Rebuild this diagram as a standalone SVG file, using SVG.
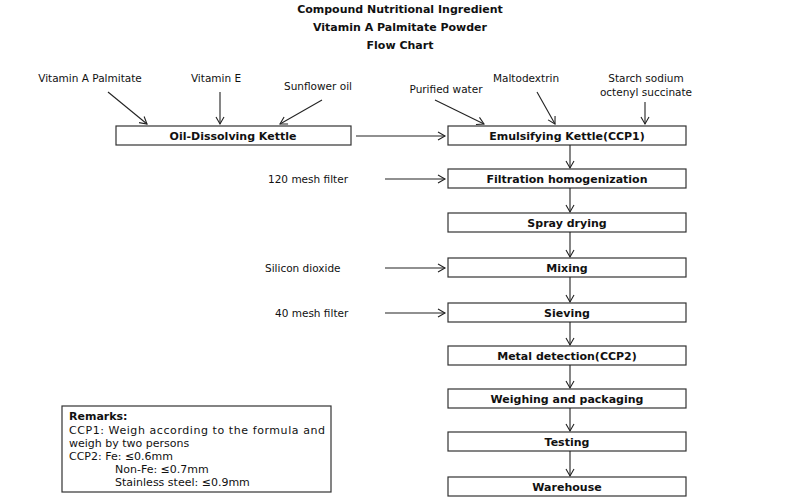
<svg xmlns="http://www.w3.org/2000/svg" width="800" height="500" viewBox="0 0 800 500">
<style>
text{font-family:"DejaVu Sans",Verdana,sans-serif;font-size:10.5px;fill:#111}
.t{font-weight:bold;font-size:11px}
.b{font-weight:bold;text-anchor:middle;font-size:11px}
.c{text-anchor:middle}
.r{font-size:11px}
rect{fill:#fff;stroke:#333;stroke-width:1.2}
line{stroke:#222;stroke-width:1.1;marker-end:url(#a)}
</style>
<defs><marker id="a" markerWidth="10" markerHeight="10" refX="8" refY="5" orient="auto" markerUnits="userSpaceOnUse"><path d="M1,1 L8,5 L1,9" fill="none" stroke="#222" stroke-width="1.1"/></marker></defs>
<rect x="0" y="0" width="800" height="500" style="stroke:none"/>
<g id="title"><text class="t c" x="400" y="13">Compound Nutritional Ingredient</text><text class="t c" x="400" y="31">Vitamin A Palmitate Powder</text><text class="t c" x="400" y="49">Flow Chart</text></g>
<g id="inputs">
<text class="c" x="90" y="82">Vitamin A Palmitate</text>
<text class="c" x="216" y="82">Vitamin E</text>
<text class="c" x="318" y="90">Sunflower oil</text>
<text class="c" x="446" y="93">Purified water</text>
<text class="c" x="526" y="82">Maltodextrin</text>
<text class="c" x="646" y="82">Starch sodium</text><text class="c" x="646" y="96">octenyl succinate</text>
<text x="268" y="183">120 mesh filter</text>
<text x="265" y="272">Silicon dioxide</text>
<text x="275" y="317">40 mesh filter</text>
</g>
<g id="n1"><rect x="116" y="126" width="235" height="19"/><text class="b" x="233" y="140">Oil-Dissolving Kettle</text></g>
<g id="n2"><rect x="448" y="126" width="238" height="19"/><text class="b" x="567" y="140">Emulsifying Kettle(CCP1)</text></g>
<g id="n3"><rect x="448" y="169" width="238" height="19"/><text class="b" x="567" y="183">Filtration homogenization</text></g>
<g id="n4"><rect x="448" y="213" width="238" height="19"/><text class="b" x="567" y="227">Spray drying</text></g>
<g id="n5"><rect x="448" y="258" width="238" height="19"/><text class="b" x="567" y="272">Mixing</text></g>
<g id="n6"><rect x="448" y="303" width="238" height="19"/><text class="b" x="567" y="317">Sieving</text></g>
<g id="n7"><rect x="448" y="346" width="238" height="19"/><text class="b" x="567" y="360">Metal detection(CCP2)</text></g>
<g id="n8"><rect x="448" y="389" width="238" height="19"/><text class="b" x="567" y="403">Weighing and packaging</text></g>
<g id="n9"><rect x="448" y="432" width="238" height="19"/><text class="b" x="567" y="446">Testing</text></g>
<g id="n10"><rect x="448" y="477" width="238" height="19"/><text class="b" x="567" y="491">Warehouse</text></g>
<g id="remarks"><rect x="62" y="406" width="269" height="86"/>
<text class="r" x="69" y="420" font-weight="bold">Remarks:</text>
<text class="r" x="69" y="434" textLength="256" lengthAdjust="spacing">CCP1: Weigh according to the formula and</text>
<text class="r" x="69" y="447">weigh by two persons</text>
<text class="r" x="69" y="460">CCP2: Fe: ≤0.6mm</text>
<text class="r" x="115" y="473">Non-Fe: ≤0.7mm</text>
<text class="r" x="115" y="486">Stainless steel: ≤0.9mm</text></g>
<g id="connectors">
<line x1="108" y1="92" x2="147" y2="124"/>
<line x1="220" y1="92" x2="220" y2="124"/>
<line x1="322" y1="100" x2="280" y2="124"/>
<line x1="435" y1="100" x2="484" y2="124"/>
<line x1="537" y1="92" x2="555" y2="124"/>
<line x1="645" y1="102" x2="645" y2="124"/>
<line x1="356" y1="136" x2="445" y2="136"/>
<line x1="385" y1="179" x2="445" y2="179"/>
<line x1="385" y1="268" x2="445" y2="268"/>
<line x1="385" y1="313" x2="445" y2="313"/>
<line x1="570" y1="145" x2="570" y2="168"/>
<line x1="570" y1="188" x2="570" y2="212"/>
<line x1="570" y1="232" x2="570" y2="257"/>
<line x1="570" y1="277" x2="570" y2="302"/>
<line x1="570" y1="322" x2="570" y2="345"/>
<line x1="570" y1="365" x2="570" y2="388"/>
<line x1="570" y1="408" x2="570" y2="431"/>
<line x1="570" y1="451" x2="570" y2="476"/>
</g>
</svg>
